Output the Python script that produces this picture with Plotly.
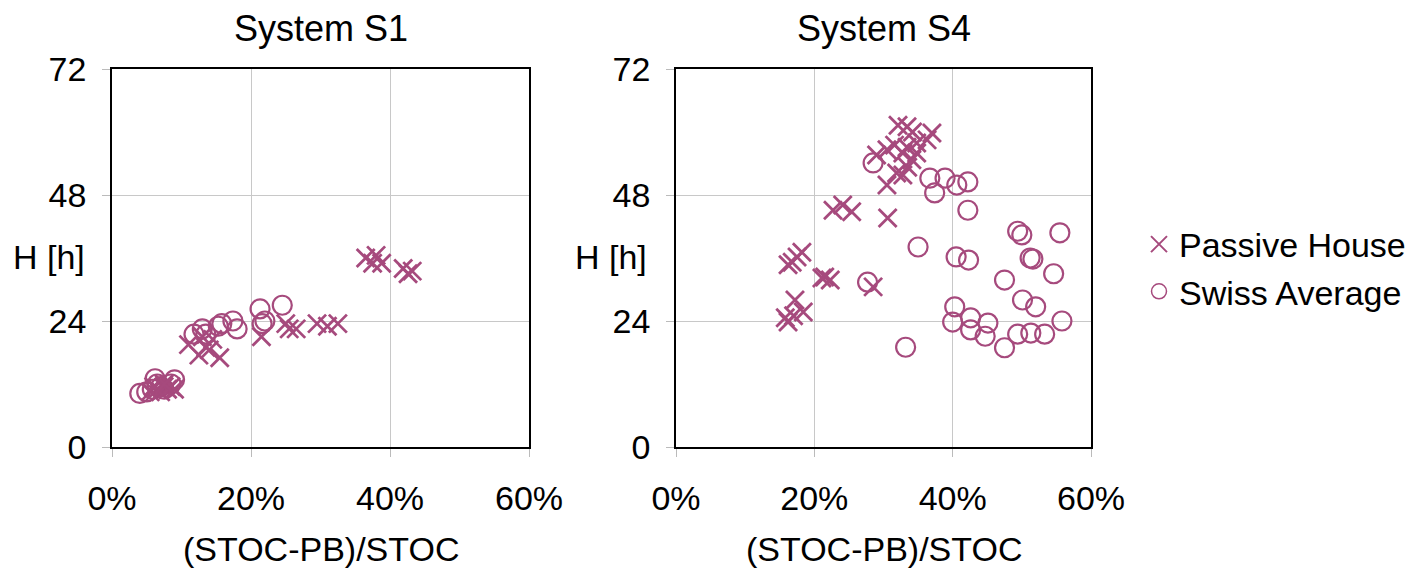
import plotly.graph_objects as go

# ---- data ----
s1_ph_x = [5.5, 6.5, 7.0, 7.5, 8.0, 8.5, 9.0, 6.0, 7.5, 11.0, 12.5, 13.5, 14.0, 14.5, 15.5, 13.0,
           21.5, 25.0, 25.5, 26.5, 29.5, 31.0, 32.5, 36.5, 37.5, 38.0, 38.8, 41.9, 42.6, 43.2]
s1_ph_y = [10.5, 11.0, 10.5, 11.5, 11.0, 11.5, 11.0, 11.5, 12.0, 19.5, 17.5, 19.0, 18.5, 20.5, 17.0, 21.0,
           21.0, 23.5, 22.5, 22.5, 23.5, 23.0, 23.5, 36.0, 35.0, 36.5, 35.0, 34.0, 33.0, 33.5]
s1_sa_x = [4.0, 5.0, 5.8, 6.2, 7.0, 7.5, 8.5, 9.0, 6.5, 11.8, 13.0, 13.5, 15.3, 15.8, 17.4, 18.0,
           21.3, 21.6, 22.0, 24.5]
s1_sa_y = [10.2, 10.5, 11.0, 13.0, 11.5, 11.0, 12.0, 12.8, 12.0, 21.5, 22.5, 21.5, 23.0, 23.5, 24.0, 22.5,
           26.3, 23.5, 24.0, 27.0]

s4_ph_x = [32.1, 33.4, 34.2, 37.0, 36.3, 34.8, 33.4, 31.6, 30.5, 29.0, 32.8, 34.8, 34.1, 32.8, 31.9, 30.5,
           33.5, 22.7, 24.1, 25.4, 30.6, 17.5, 16.8, 18.2, 16.2, 21.5, 22.3, 21.1, 28.5, 17.2, 18.4,
           16.2, 15.8, 17.0]
s4_ph_y = [61.3, 61.0, 60.0, 59.8, 58.5, 57.9, 57.1, 57.5, 56.6, 55.6, 56.0, 56.0, 54.7, 51.8, 52.2, 49.9,
           53.3, 45.1, 46.1, 44.8, 43.6, 36.2, 35.2, 37.1, 34.7, 32.4, 31.8, 32.2, 30.5, 28.0, 25.7,
           23.8, 24.6, 25.0]
s4_sa_x = [28.5, 36.7, 38.9, 37.4, 40.6, 42.2, 42.2, 35.0, 40.5, 42.3, 49.4, 50.0, 55.5, 51.2, 51.6, 47.5,
           54.6, 50.1, 52.0, 55.8, 40.3, 40.0, 42.6, 42.6, 45.1, 44.7, 47.5, 49.4, 51.3, 53.3, 33.2, 27.7]
s4_sa_y = [54.1, 51.2, 51.2, 48.4, 49.9, 50.5, 45.1, 38.1, 36.2, 35.6, 41.1, 40.4, 40.8, 36.0, 35.8, 31.8,
           33.0, 28.0, 26.7, 24.0, 26.7, 23.8, 24.6, 22.3, 23.6, 21.1, 18.9, 21.5, 21.7, 21.5, 19.0, 31.4]

titles = ["System S1", "System S4"]
x_ticks = [0, 20, 40, 60]
x_tick_labels = ["0%", "20%", "40%", "60%"]
y_ticks = [0, 24, 48, 72]

COLOR = "#A64A7D"
FONT = "Liberation Sans, Arial, sans-serif"

fig = go.Figure()

def add_pair(xa, ya, phx, phy, sax, say):
    fig.add_trace(go.Scatter(x=sax, y=say, mode="markers", name="Swiss Average",
                             marker=dict(symbol="circle-open", size=19, color=COLOR,
                                         line=dict(width=2.2, color=COLOR)),
                             xaxis=xa, yaxis=ya, showlegend=False))
    fig.add_trace(go.Scatter(x=phx, y=phy, mode="markers", name="Passive House",
                             marker=dict(symbol="x-thin-open", size=18, color=COLOR,
                                         line=dict(width=2.8, color=COLOR)),
                             xaxis=xa, yaxis=ya, showlegend=False))

add_pair("x", "y", s1_ph_x, s1_ph_y, s1_sa_x, s1_sa_y)
add_pair("x2", "y2", s4_ph_x, s4_ph_y, s4_sa_x, s4_sa_y)

# legend-only traces
fig.add_trace(go.Scatter(x=[None], y=[None], mode="markers", name="Passive House",
                         marker=dict(symbol="x-thin-open", size=16, color=COLOR,
                                     line=dict(width=2, color=COLOR))))
fig.add_trace(go.Scatter(x=[None], y=[None], mode="markers", name="Swiss Average",
                         marker=dict(symbol="circle-open", size=15, color=COLOR,
                                     line=dict(width=1.5, color=COLOR))))

W, H = 1407, 570
dom1 = [112 / W, 529 / W]
dom2 = [676 / W, 1091 / W]
ydom = [(H - 447) / H, (H - 69) / H]

TICKSIZE = 34
LABSIZE = 34

xcommon = dict(range=[0, 60], tickvals=x_ticks, ticktext=x_tick_labels, showgrid=True,
               gridcolor="#C8C8C8", gridwidth=1, showline=True, linecolor="black", linewidth=1.5,
               mirror=True, ticks="outside", ticklen=8, tickcolor="#BBBBBB", zeroline=False,
               automargin=False,
               tickfont=dict(size=TICKSIZE, color="black", family=FONT), ticklabelstandoff=12)
ycommon = dict(range=[0, 72], tickvals=y_ticks, showgrid=True,
               gridcolor="#C8C8C8", gridwidth=1, showline=True, linecolor="black", linewidth=1.5,
               mirror=True, ticks="outside", ticklen=8, tickcolor="#BBBBBB", zeroline=False,
               automargin=False,
               tickfont=dict(size=TICKSIZE, color="black", family=FONT), ticklabelstandoff=9)

fig.update_layout(
    width=W, height=H,
    margin=dict(l=0, r=0, t=0, b=0, autoexpand=False),
    paper_bgcolor="white", plot_bgcolor="white",
    font=dict(family=FONT, color="black"),
    xaxis=dict(domain=dom1, anchor="y", **xcommon),
    yaxis=dict(domain=ydom, anchor="x", **ycommon),
    xaxis2=dict(domain=dom2, anchor="y2", **xcommon),
    yaxis2=dict(domain=ydom, anchor="x2", **ycommon),
    legend=dict(x=1139 / W, y=(H - 268) / H, xanchor="left", yanchor="middle",
                font=dict(size=LABSIZE, color="black", family=FONT), itemsizing="trace",
                tracegroupgap=0, bgcolor="rgba(0,0,0,0)"),
)

ann = []
for dom, t in zip([dom1, dom2], titles):
    cx = (dom[0] + dom[1]) / 2
    ann.append(dict(text=t, x=cx, y=(H - 28) / H, xref="paper", yref="paper",
                    showarrow=False, font=dict(size=36, family=FONT, color="black"),
                    xanchor="center", yanchor="middle"))
    ann.append(dict(text="(STOC-PB)/STOC", x=cx, y=(H - 549) / H, xref="paper", yref="paper",
                    showarrow=False, font=dict(size=LABSIZE, family=FONT, color="black"),
                    xanchor="center", yanchor="middle"))
ann.append(dict(text="H [h]", x=49 / W, y=(H - 257) / H, xref="paper", yref="paper",
                showarrow=False, font=dict(size=LABSIZE, family=FONT, color="black"),
                xanchor="center", yanchor="middle"))
ann.append(dict(text="H [h]", x=611 / W, y=(H - 257) / H, xref="paper", yref="paper",
                showarrow=False, font=dict(size=LABSIZE, family=FONT, color="black"),
                xanchor="center", yanchor="middle"))
fig.update_layout(annotations=ann)

fig.write_html("out.html", config={"displayModeBar": False},
               post_script="document.body.style.margin='0px';document.body.style.overflow='hidden';")
